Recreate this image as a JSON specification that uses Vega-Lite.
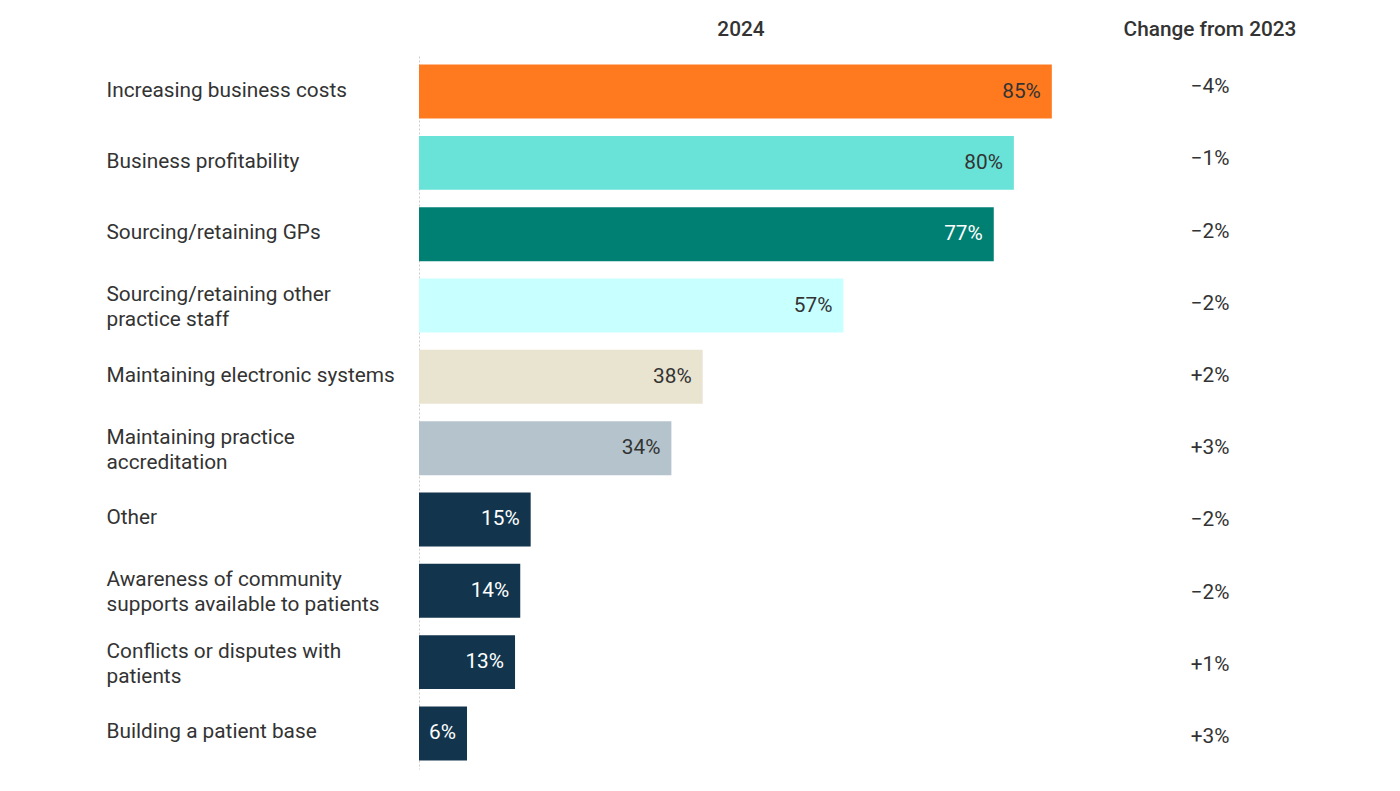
{
  "$schema": "https://vega.github.io/schema/vega-lite/v6.json",
  "padding": {"left": 106, "top": 19, "right": 0, "bottom": 0},
  "background": "white",
  "config": {
    "view": {"stroke": null},
    "font": "Roboto",
    "title": {"font": "Roboto", "fontSize": 20.8, "fontWeight": 500, "color": "#333333", "offset": 15}
  },
  "data": {
    "values": [
      {"cat": "Increasing business costs", "v": 0.85, "chg": -0.04},
      {"cat": "Business profitability", "v": 0.799, "chg": -0.01},
      {"cat": "Sourcing/retaining GPs", "v": 0.772, "chg": -0.02},
      {"cat": "Sourcing/retaining other|practice staff", "v": 0.57, "chg": -0.02},
      {"cat": "Maintaining electronic systems", "v": 0.381, "chg": 0.02},
      {"cat": "Maintaining practice|accreditation", "v": 0.339, "chg": 0.03},
      {"cat": "Other", "v": 0.15, "chg": -0.02},
      {"cat": "Awareness of community|supports available to patients", "v": 0.136, "chg": -0.02},
      {"cat": "Conflicts or disputes with|patients", "v": 0.129, "chg": 0.01},
      {"cat": "Building a patient base", "v": 0.0645, "chg": 0.03}
    ]
  },
  "spacing": 57,
  "hconcat": [
    {
      "width": 644,
      "height": 713,
      "title": {"text": "2024"},
      "encoding": {
        "y": {
          "field": "cat", "type": "nominal", "sort": null,
          "scale": {"paddingInner": 0.243, "paddingOuter": 0.12},
          "axis": {
            "title": null, "ticks": false, "labelAlign": "left", "labelPadding": 313,
            "labelExpr": "split(datum.label, '|')", "labelLineHeight": 25,
            "labelOffset": {"condition": {"test": "indexof(datum.value, '|') >= 0", "value": -10.5}, "value": -1},
            "labelFont": "Roboto", "labelFontSize": 20.8, "labelColor": "#333333", "labelLimit": 400,
            "domainColor": "#cccccc", "domainDash": [2, 2], "domainWidth": 1
          }
        }
      },
      "layer": [
        {
          "mark": {"type": "bar"},
          "encoding": {
            "x": {"field": "v", "type": "quantitative", "scale": {"domain": [0, 0.865], "zero": true, "nice": false}, "axis": null},
            "color": {
              "field": "cat", "type": "nominal", "legend": null,
              "scale": {
                "domain": ["Increasing business costs", "Business profitability", "Sourcing/retaining GPs", "Sourcing/retaining other|practice staff", "Maintaining electronic systems", "Maintaining practice|accreditation", "Other", "Awareness of community|supports available to patients", "Conflicts or disputes with|patients", "Building a patient base"],
                "range": ["#FF7A1F", "#69E3D8", "#007F73", "#C8FFFF", "#E9E4D0", "#B5C4CC", "#12354D", "#12354D", "#12354D", "#12354D"]
              }
            }
          }
        },
        {
          "mark": {"type": "text", "align": "right", "dx": -11, "font": "Roboto", "fontSize": 20.8},
          "encoding": {
            "x": {"field": "v", "type": "quantitative"},
            "text": {"field": "v", "type": "quantitative", "format": ".0%"},
            "color": {
              "condition": {"test": "indexof(['Sourcing/retaining GPs','Other','Awareness of community|supports available to patients','Conflicts or disputes with|patients','Building a patient base'], datum.cat) >= 0", "value": "#ffffff"},
              "value": "#333333"
            }
          }
        }
      ]
    },
    {
      "width": 180,
      "height": 722,
      "title": {"text": "Change from 2023"},
      "mark": {"type": "text", "font": "Roboto", "fontSize": 20.8, "color": "#333333", "dy": -5},
      "encoding": {
        "y": {
          "field": "cat", "type": "nominal", "sort": null,
          "scale": {"paddingInner": 0, "paddingOuter": 0},
          "axis": null
        },
        "text": {"field": "chg", "type": "quantitative", "format": "+.0%"}
      }
    }
  ]
}
